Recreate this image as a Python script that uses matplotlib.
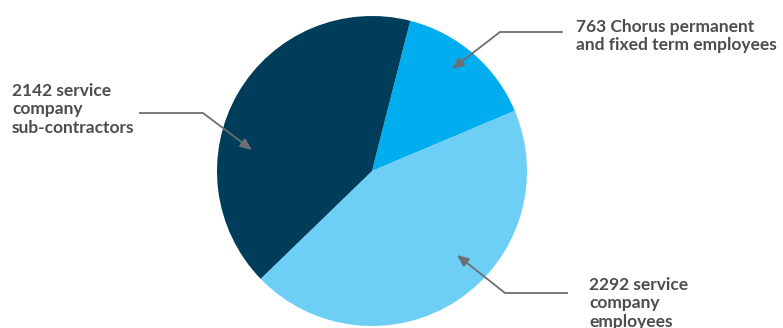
import matplotlib.pyplot as plt

# workforce split
labels = ["763 Chorus permanent\nand fixed term employees",
          "2292 service\ncompany\nemployees",
          "2142 service\ncompany\nsub-contractors"]
values = [763, 2292, 2142]
colors = ["#00AEEF", "#6DCFF6", "#003D5B"]

W, H = 783, 328
fig = plt.figure(figsize=(W / 100, H / 100), dpi=100)
ax = fig.add_axes([0, 0, 1, 1])


def Y(y):
    # pixel row (from top) -> data y
    return H - y


ax.pie(values, colors=colors, center=(372, Y(171)), radius=155,
       startangle=75.7, counterclock=False,
       wedgeprops=dict(linewidth=0))
ax.set_xlim(0, W)
ax.set_ylim(0, H)
ax.set_aspect("equal")
ax.axis("off")

txt = dict(color="#4D4D4F", fontsize=12.5, family="Lato", fontweight="bold")
grey = "#6D6E71"
pitch = 18.3

# (text x, first baseline, line start x, elbow x, line y, tip x, tip y)
callouts = [
    (576, 32, 563, 500, 32, 452, 69),
    (589, 290, 568, 505, 293, 457, 255),
    (12, 96, 139, 203, 113, 252, 150),
]
for lab, (tx, ty, sx, ex, ly, px, py) in zip(labels, callouts):
    for i, line in enumerate(lab.split("\n")):
        ax.text(tx, Y(ty + i * pitch), line, ha="left", va="baseline", **txt)
    ax.plot([sx, ex], [Y(ly), Y(ly)], color=grey, lw=1.3, solid_capstyle="butt")
    ax.annotate("", xy=(px, Y(py)), xytext=(ex, Y(ly)),
                arrowprops=dict(arrowstyle="-|>,head_length=0.7,head_width=0.3",
                                color=grey, lw=1.3, shrinkA=0, shrinkB=0))

fig.savefig("out.png", dpi=100)
